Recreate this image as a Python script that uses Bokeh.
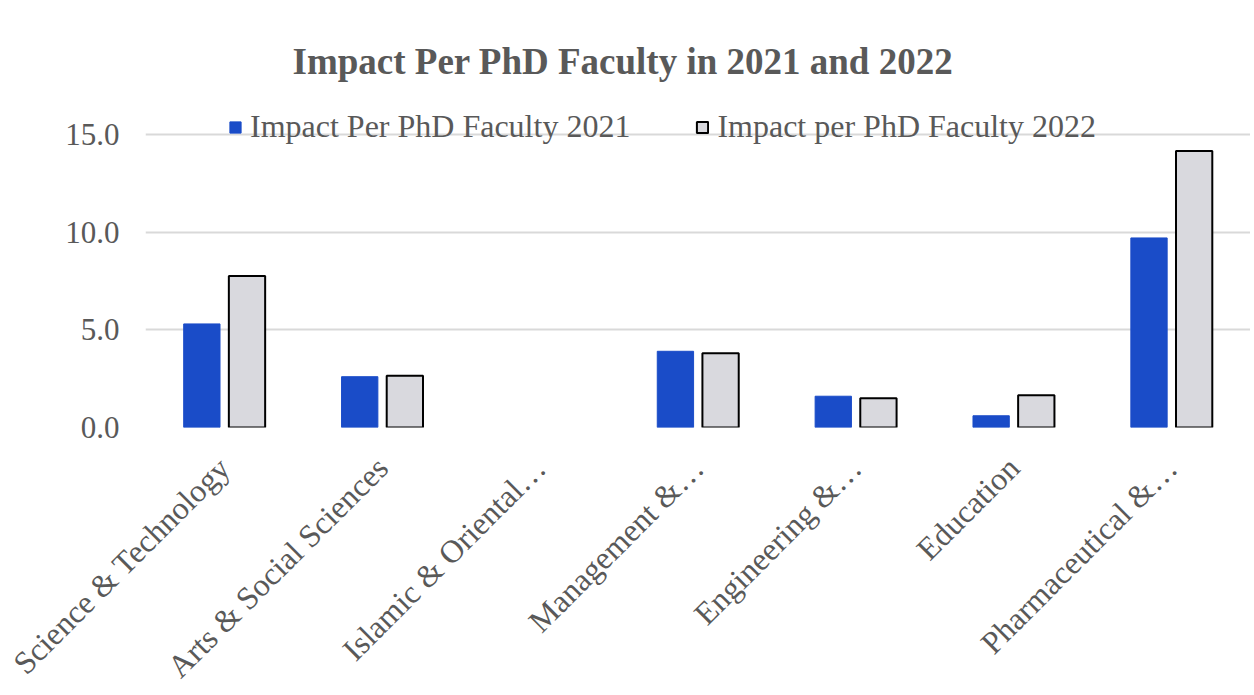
import math
from bokeh.plotting import figure
from bokeh.layouts import column
from bokeh.models import (ColumnDataSource, FactorRange, Range1d, FixedTicker,
                          NumeralTickFormatter, Legend, LegendItem)
from bokeh.core.properties import value
from bokeh.transform import dodge
from bokeh.embed import file_html
from bokeh.resources import INLINE

categories = ["Science & Technology", "Arts & Social Sciences", "Islamic & Oriental\u2026",
              "Management &\u2026", "Engineering &\u2026", "Education", "Pharmaceutical &\u2026"]
impact_2021 = [5.3, 2.6, 0.0, 3.9, 1.6, 0.6, 9.7]
impact_2022 = [7.75, 2.65, 0.0, 3.8, 1.5, 1.65, 14.15]
y_ticks = [0, 5, 10, 15]
series_names = ["Impact Per PhD Faculty 2021", "Impact per PhD Faculty 2022"]

FONT = "Liberation Serif"
TXT = "#595959"
BLUE = "#1A4CC8"
GRAY = "#D9D9DE"

W = 1250
LEFT = 145          # left border of the plot frame
TOP_H = 448         # height of the bar figure
BOT_H = 242         # height of the category-label strip
LABEL_Y = 462       # page y of the label anchors
N = len(categories)

src = ColumnDataSource(dict(
    cat=categories, v21=impact_2021, v22=impact_2022,
    a21=[1.0 if v > 0 else 0.0 for v in impact_2021],
    a22=[1.0 if v > 0 else 0.0 for v in impact_2022],
))

# frame extends a bit above the 15.0 gridline so the legend can sit over it
Y_TOP = 17.45

p = figure(width=W, height=TOP_H, output_backend="svg", toolbar_location=None,
           x_range=FactorRange(*categories, range_padding=0),
           y_range=Range1d(0, Y_TOP),
           min_border_left=LEFT, min_border_right=0, min_border_top=86,
           min_border_bottom=TOP_H - 427)
p.frame_align = False

p.title.text = "Impact Per PhD Faculty in 2021 and 2022"
p.title.text_font = FONT
p.title.text_font_size = "37px"
p.title.text_font_style = "bold"
p.title.text_color = TXT
p.title.align = "left"
p.title.offset = 147

r1 = p.vbar(x=dodge("cat", -0.143, range=p.x_range), top="v21", width=0.23, source=src,
            fill_color=BLUE, line_color=BLUE, line_alpha="a21", line_width=1)
r2 = p.vbar(x=dodge("cat", 0.143, range=p.x_range), top="v22", width=0.23, source=src,
            fill_color=GRAY, line_color="black", line_alpha="a22", line_width=2)

p.outline_line_color = None
p.xgrid.grid_line_color = None
p.ygrid.grid_line_color = "#D9D9D9"
p.ygrid.grid_line_width = 2
p.xaxis.visible = False

p.yaxis.ticker = FixedTicker(ticks=y_ticks)
p.yaxis.formatter = NumeralTickFormatter(format="0.0")
ax = p.yaxis[0]
ax.axis_line_color = None
ax.major_tick_line_color = None
ax.minor_tick_line_color = None
ax.major_label_text_font = FONT
ax.major_label_text_color = TXT
ax.major_label_text_font_size = "31px"
ax.major_label_standoff = 20

legend = Legend(items=[LegendItem(label=series_names[0], renderers=[r1]),
                       LegendItem(label=series_names[1], renderers=[r2])],
                location=(83, 282), orientation="horizontal",
                background_fill_alpha=0, border_line_color=None,
                padding=0, margin=0, spacing=65, label_standoff=8,
                glyph_width=14, glyph_height=14,
                label_text_font=FONT, label_text_font_size="32px",
                label_text_color=TXT)
p.add_layout(legend, "center")

# strip below the bars holding the rotated category labels; its x scale is
# aligned with the category slots of the bar figure above
slot = (W - LEFT) / N
lab_src = ColumnDataSource(dict(
    xpos=[i + 0.5 for i in range(N)],
    ypos=[0.0] * N,
    text=categories,
))
q = figure(width=W, height=BOT_H, output_backend="svg", toolbar_location=None,
           x_range=Range1d(-LEFT / slot, N), y_range=Range1d(-1, 0),
           min_border_left=0, min_border_right=0, min_border_top=0,
           min_border_bottom=0)
q.frame_align = False
q.axis.visible = False
q.grid.visible = False
q.outline_line_color = None
q.text(x="xpos", y="ypos", text="text", source=lab_src, y_offset=LABEL_Y - TOP_H,
       angle=math.pi / 4, text_align="right", text_baseline="middle",
       text_font=value(FONT), text_font_size="32px", text_color=TXT)

open("out.html", "w").write(file_html(column(p, q, spacing=0), INLINE))
